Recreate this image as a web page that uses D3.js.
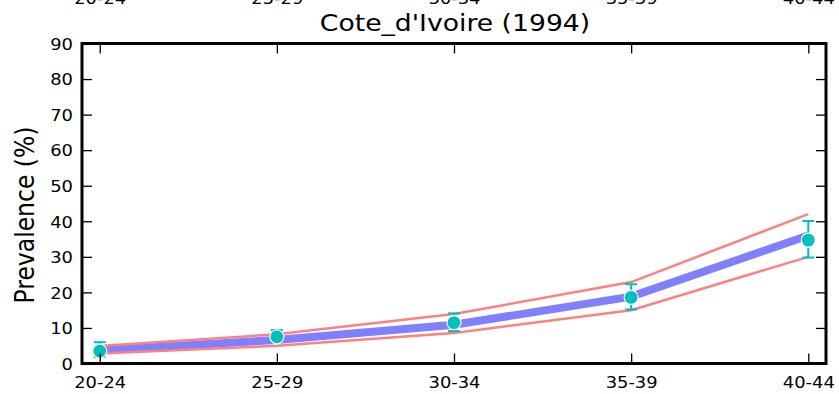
<!DOCTYPE html>
<html>
<head>
<meta charset="utf-8">
<script src="https://cdn.jsdelivr.net/npm/d3@7"></script>
<style>
  body { margin: 0; background: #fff; }
  text { font-family: "DejaVu Sans", sans-serif; }
</style>
</head>
<body>
<script>
// age groups and values
const ageGroups = ["20-24", "25-29", "30-34", "35-39", "40-44"];
const observed = [3.5, 7.5, 11.5, 18.6, 34.7];
const errLow = [1.9, 6.1, 9.1, 15.2, 29.8];
const errHigh = [6.0, 9.4, 14.1, 22.3, 40.1];
const modelMean = [3.7, 6.6, 10.9, 18.8, 36.0];
const modelUpper = [4.9, 8.2, 13.9, 22.9, 42.0];
const modelLower = [2.8, 5.0, 8.6, 15.0, 30.0];
const yTicks = [0, 10, 20, 30, 40, 50, 60, 70, 80, 90];

const W = 839, H = 394;
const margin = {top: 43.5, right: 13, bottom: 30.5, left: 82};
const width = W - margin.left - margin.right;
const height = H - margin.top - margin.bottom;
const stretch = 1.12; // text in the picture is a bit wider than tall

const svg = d3.select("body").append("svg")
  .attr("width", W).attr("height", H);

const g = svg.append("g")
  .attr("transform", "translate(" + margin.left + "," + margin.top + ")");

const x = d3.scaleLinear().domain([-0.1, 4.1]).range([0, width]);
const y = d3.scaleLinear().domain([0, 90]).range([height, 0]);
const idx = d3.range(ageGroups.length);

// data lines
const line = arr => d3.line().x(i => x(i)).y(i => y(arr[i]))(idx);

g.append("path").attr("d", line(modelMean))
  .attr("fill", "none").attr("stroke", "#8080ff").attr("stroke-width", 8);
[modelUpper, modelLower].forEach(function(arr) {
  g.append("path").attr("d", line(arr))
    .attr("fill", "none").attr("stroke", "#ff8080").attr("stroke-width", 2.5);
});

// error bars
const eb = g.append("g").attr("stroke", "#00bfbf").attr("stroke-width", 2);
idx.forEach(function(i) {
  eb.append("line").attr("x1", x(i)).attr("x2", x(i))
    .attr("y1", y(errLow[i])).attr("y2", y(errHigh[i]));
  [errLow[i], errHigh[i]].forEach(function(v) {
    eb.append("line").attr("x1", x(i) - 6).attr("x2", x(i) + 6)
      .attr("y1", y(v)).attr("y2", y(v));
  });
});

// points
g.selectAll("circle.pt").data(idx).enter().append("circle")
  .attr("class", "pt")
  .attr("cx", i => x(i)).attr("cy", i => y(observed[i]))
  .attr("r", 7).attr("fill", "#00bfbf")
  .attr("stroke", "#fff").attr("stroke-width", 1.2);

// axes with ticks pointing inwards
function styleAxis(sel) {
  sel.select(".domain").remove();
  sel.selectAll(".tick line").attr("stroke", "#000").attr("stroke-width", 1.3);
  sel.selectAll(".tick text").attr("fill", "#000").style("font-size", "16px");
}

const fmtX = i => ageGroups[i];

const xAxisBottom = g.append("g").attr("transform", "translate(0," + height + ")")
  .call(d3.axisBottom(x).tickValues(idx).tickFormat(fmtX).tickSize(-10).tickPadding(12))
  .call(styleAxis);
xAxisBottom.selectAll(".tick text").attr("y", 24.5).attr("dy", null)
  .attr("transform", "scale(" + stretch + ",1)");

// the duplicate labels above the frame sit against the top edge, as in the picture
const xAxisTop = g.append("g")
  .call(d3.axisTop(x).tickValues(idx).tickFormat(fmtX).tickSize(-10))
  .call(styleAxis);
xAxisTop.selectAll(".tick text").attr("y", -margin.top + 4).attr("dy", null)
  .attr("transform", "scale(" + stretch + ",1)");

const yAxisLeft = g.append("g")
  .call(d3.axisLeft(y).tickValues(yTicks).tickSize(-10).tickPadding(9))
  .call(styleAxis);
yAxisLeft.selectAll(".tick text").attr("dy", "0.36em")
  .attr("transform", "scale(" + stretch + ",1)").attr("x", -9 / stretch);

g.append("g").attr("transform", "translate(" + width + ",0)")
  .call(d3.axisRight(y).tickValues(yTicks).tickSize(-10).tickFormat(""))
  .call(styleAxis);

// frame
g.append("rect").attr("width", width).attr("height", height)
  .attr("fill", "none").attr("stroke", "#000").attr("stroke-width", 3);

// title and y label
svg.append("text")
  .attr("transform", "translate(" + (margin.left + width / 2 + 1) + ",31) scale(" + stretch + ",1)")
  .attr("text-anchor", "middle").style("font-size", "23.8px")
  .text("Cote_d'Ivoire (1994)");

svg.append("text")
  .attr("transform", "translate(34,215) rotate(-90) scale(1," + stretch + ")")
  .attr("text-anchor", "middle").style("font-size", "23.5px")
  .text("Prevalence (%)");
</script>
</body>
</html>
